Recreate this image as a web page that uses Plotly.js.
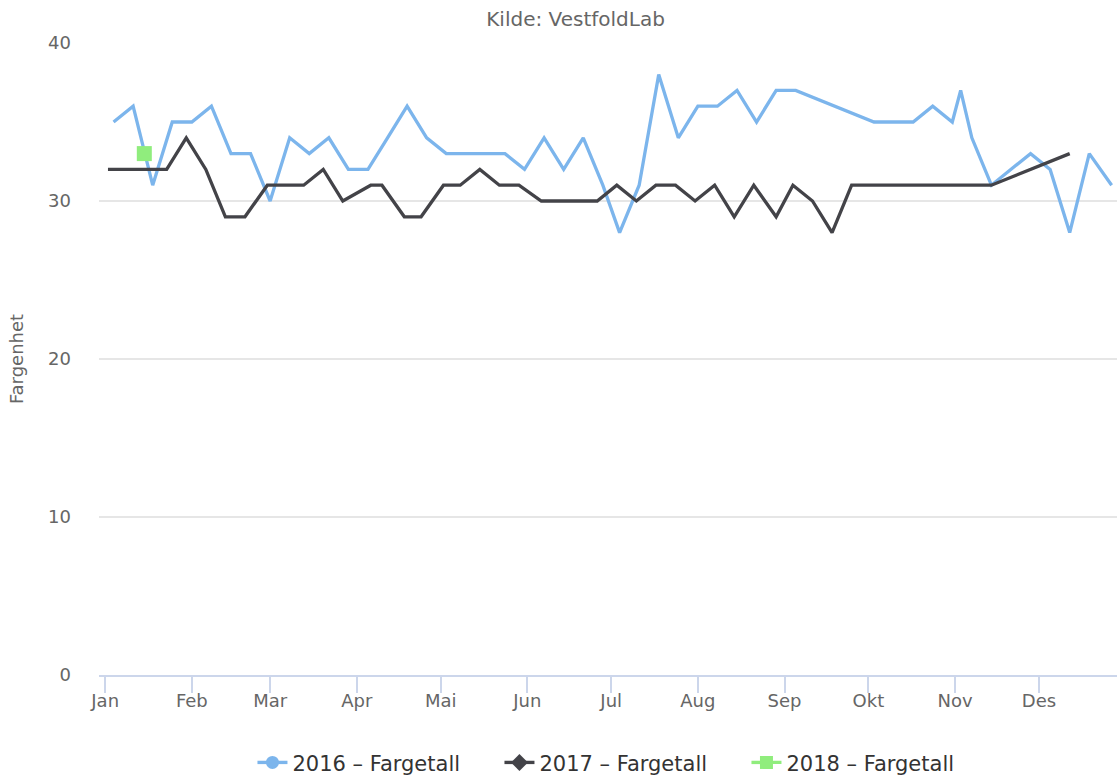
<!DOCTYPE html>
<html>
<head>
<meta charset="utf-8">
<script src="https://cdn.plot.ly/plotly-3.0.1.min.js"></script>
<style>html,body{margin:0;padding:0;background:#fff;}#chart{width:1117px;height:776px;}</style>
</head>
<body>
<div id="chart"></div>
<script>
// Common axis year (all series mapped onto one calendar year)
const axisYear = "2017";

const monthTicks = ["01-01","02-01","03-01","04-01","05-01","06-01","07-01","08-01","09-01","10-01","11-01","12-01"];
const monthLabels = ["Jan","Feb","Mar","Apr","Mai","Jun","Jul","Aug","Sep","Okt","Nov","Des"];

const dates2016 = ["01-04","01-11","01-18","01-25","02-01","02-08","02-15","02-22","03-01","03-08","03-15","03-22","03-29","04-05","04-12","04-19","04-26","05-03","05-10","05-17","05-24","05-31","06-07","06-14","06-21","06-28","07-04","07-11","07-18","07-25","08-01","08-08","08-15","08-22","08-29","09-05","10-03","10-10","10-17","10-24","10-31","11-03","11-07","11-14","11-21","11-28","12-05","12-12","12-19","12-27"];
const values2016 = [35,36,31,35,35,36,33,33,30,34,33,34,32,32,34,36,34,33,33,33,33,32,34,32,34,31,28,31,38,34,36,36,37,35,37,37,35,35,35,36,35,37,34,31,32,33,32,28,33,31];

const dates2017 = ["01-02","01-09","01-16","01-23","01-30","02-06","02-13","02-20","02-28","03-06","03-13","03-20","03-27","04-06","04-10","04-18","04-24","05-02","05-08","05-15","05-22","05-29","06-06","06-13","06-20","06-26","07-03","07-10","07-17","07-24","07-31","08-07","08-14","08-21","08-29","09-04","09-11","09-18","09-25","10-02","10-09","10-16","10-23","10-30","11-06","11-14","12-12"];
const values2017 = [32,32,32,32,34,32,29,29,31,31,31,32,30,31,31,29,29,31,31,32,31,31,30,30,30,30,31,30,31,31,30,31,29,31,29,31,30,28,31,31,31,31,31,31,31,31,33];

const dates2018 = ["01-15"];
const values2018 = [33];

const seriesNames = ["2016 – Fargetall","2017 – Fargetall","2018 – Fargetall"];
const seriesColors = ["#7cb5ec","#434348","#90ed7d"];
const legendSymbols = ["circle","diamond","square"];

const toDate = md => axisYear + "-" + md;

const font = "DejaVu Sans, Verdana, sans-serif";

const traces = [
  {x: dates2016.map(toDate), y: values2016, type: "scatter", mode: "lines",
   line: {color: seriesColors[0], width: 3.3}, name: seriesNames[0], legendgroup: "a", showlegend: false, hoverinfo: "skip"},
  {x: dates2017.map(toDate), y: values2017, type: "scatter", mode: "lines",
   line: {color: seriesColors[1], width: 3.3}, name: seriesNames[1], legendgroup: "b", showlegend: false, hoverinfo: "skip"},
  {x: dates2018.map(toDate), y: values2018, type: "scatter", mode: "markers",
   marker: {color: seriesColors[2], symbol: "square", size: 15}, name: seriesNames[2], legendgroup: "c", showlegend: false, hoverinfo: "skip"}
];
// legend entries (line + marker symbol, as in the reference legend)
["a","b","c"].forEach((g, i) => {
  traces.push({x: [null], y: [null], type: "scatter", mode: "lines+markers",
    line: {color: seriesColors[i], width: 3.3},
    marker: {color: seriesColors[i], symbol: legendSymbols[i], size: 13},
    name: seriesNames[i], legendgroup: g, showlegend: true, hoverinfo: "skip"});
});

const layout = {
  width: 1117, height: 776,
  margin: {l: 99, r: 0, t: 43, b: 101},
  paper_bgcolor: "#ffffff", plot_bgcolor: "#ffffff",
  font: {family: font, color: "#666666", size: 18},
  title: {text: "Kilde: VestfoldLab", font: {family: font, size: 20, color: "#666666"},
          xref: "container", x: 0.5153, xanchor: "center", yref: "container", y: 0.975, yanchor: "middle"},
  xaxis: {
    type: "date",
    range: ["2016-12-29 19:00", "2017-12-28 22:00"],
    tickmode: "array",
    tickvals: monthTicks.map(toDate),
    ticktext: monthLabels,
    ticks: "outside", ticklen: 16, tickwidth: 2, tickcolor: "#ccd6eb",
    ticklabelstandoff: -8,
    showline: true, linecolor: "#ccd6eb", linewidth: 2,
    showgrid: false, zeroline: false,
    tickfont: {family: font, size: 18, color: "#666666"}
  },
  yaxis: {
    range: [0, 40],
    tickvals: [0, 10, 20, 30, 40],
    showgrid: true, gridcolor: "#e6e6e6", gridwidth: 1.5,
    zeroline: false, showline: false, ticks: "",
    ticklabelstandoff: 27,
    tickfont: {family: font, size: 18, color: "#666666"},
    title: {text: "Fargenhet", font: {family: font, size: 18, color: "#666666"}, standoff: 19}
  },
  showlegend: true,
  legend: {orientation: "h", x: 0.5147, xanchor: "center", yref: "container", y: 0.017, yanchor: "middle",
           font: {family: font, size: 21, color: "#333333"}, entrywidth: 202, entrywidthmode: "pixels",
           bgcolor: "rgba(0,0,0,0)"}
};

Plotly.newPlot("chart", traces, layout, {displayModeBar: false, staticPlot: true});
</script>
</body>
</html>
